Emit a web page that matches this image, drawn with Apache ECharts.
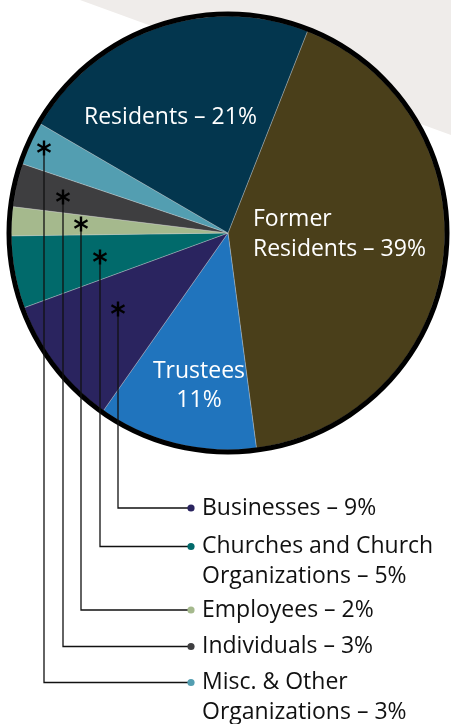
<!DOCTYPE html>
<html>
<head>
<meta charset="utf-8">
<script src="https://cdn.jsdelivr.net/npm/echarts@6/dist/echarts.min.js"></script>
<style>
html,body{margin:0;padding:0;background:#ffffff;}
#chart{width:451px;height:724px;}
</style>
</head>
<body>
<div id="chart"></div>
<script>
// ---- data ----
const categories = ['Former Residents', 'Trustees', 'Businesses', 'Churches and Church Organizations', 'Employees', 'Individuals', 'Misc. & Other Organizations', 'Residents'];
const values = [39, 11, 9, 5, 2, 3, 3, 21];
const labelTexts = ['Former\nResidents – 39%', 'Trustees\n11%', 'Businesses – 9%', 'Churches and Church\nOrganizations – 5%', 'Employees – 2%', 'Individuals – 3%', 'Misc. & Other\nOrganizations – 3%', 'Residents – 21%'];
const colors = ['#4a3f1a', '#2074bd', '#2a245f', '#016a6b', '#a5b98d', '#3e3e40', '#539eb1', '#03364e'];
const calloutIndices = [2, 3, 4, 5, 6];

// ---- layout (positions only) ----
const FONT = '"Open Sans", "Noto Sans", sans-serif';
const FS = 23;
const LH = 29.5;
const inner = {0: {x: 253, y: 234.5, align: 'left'}, 1: {x: 199, y: 386, align: 'center'}, 7: {x: 84, y: 117, align: 'left'}};
const calloutX = [118, 100, 81, 63, 44];
const starY = [309, 257, 224, 197, 148];
const legendY = [508, 546.5, 610, 646.5, 682.5];
const dotX = 191, textX = 202;

const chart = echarts.init(document.getElementById('chart'));

const graphics = [];
graphics.push({type: 'polygon', z: 0, shape: {points: [[80, 0], [451, 0], [451, 135]]}, style: {fill: '#efecea'}, silent: true});

calloutIndices.forEach((idx, k) => {
  const vx = calloutX[k], sy = starY[k], ly = legendY[k];
  graphics.push({type: 'polyline', z: 100, shape: {points: [[vx, sy], [vx, ly], [dotX, ly]]}, style: {stroke: '#111', lineWidth: 1.3, fill: null}, silent: true});
  // asterisk
  [90, 30, 150].forEach(a => {
    const r = 7.5, rad = a * Math.PI / 180;
    graphics.push({type: 'line', z: 101, shape: {x1: vx - r * Math.cos(rad), y1: sy - r * Math.sin(rad), x2: vx + r * Math.cos(rad), y2: sy + r * Math.sin(rad)}, style: {stroke: '#000', lineWidth: 2.4}, silent: true});
  });
  graphics.push({type: 'circle', z: 101, shape: {cx: dotX, cy: ly, r: 3.6}, style: {fill: colors[idx]}, silent: true});
  graphics.push({type: 'text', z: 101, style: {text: labelTexts[idx], x: textX, y: ly - LH / 2, font: FS + 'px ' + FONT, lineHeight: LH, fill: '#111111', textVerticalAlign: 'top', textAlign: 'left'}, silent: true});
});

const pieData = categories.map((c, i) => ({
  name: c,
  value: values[i],
  itemStyle: {color: colors[i]},
  label: {show: inner[i] !== undefined}
}));

chart.setOption({
  animation: false,
  backgroundColor: '#ffffff',
  graphic: graphics,
  series: [
    {
      type: 'pie',
      z: 2,
      center: [228, 233],
      radius: [0, 217],
      startAngle: 68.5,
      clockwise: true,
      silent: true,
      data: pieData,
      itemStyle: {borderColor: 'rgba(210,210,210,0.55)', borderWidth: 0.6},
      label: {
        position: 'inside',
        color: '#ffffff',
        fontFamily: FONT,
        fontSize: FS,
        lineHeight: LH,
        formatter: p => labelTexts[p.dataIndex]
      },
      labelLine: {show: false},
      labelLayout: function (params) {
        const p = inner[params.dataIndex];
        if (!p) return {};
        return {x: p.x, y: p.y, align: p.align, verticalAlign: 'middle'};
      }
    },
    {
      type: 'pie',
      z: 3,
      center: [228, 233],
      radius: [216.5, 221.5],
      silent: true,
      label: {show: false},
      labelLine: {show: false},
      itemStyle: {color: '#000000'},
      data: [{name: 'ring', value: 1}]
    }
  ]
});
</script>
</body>
</html>
